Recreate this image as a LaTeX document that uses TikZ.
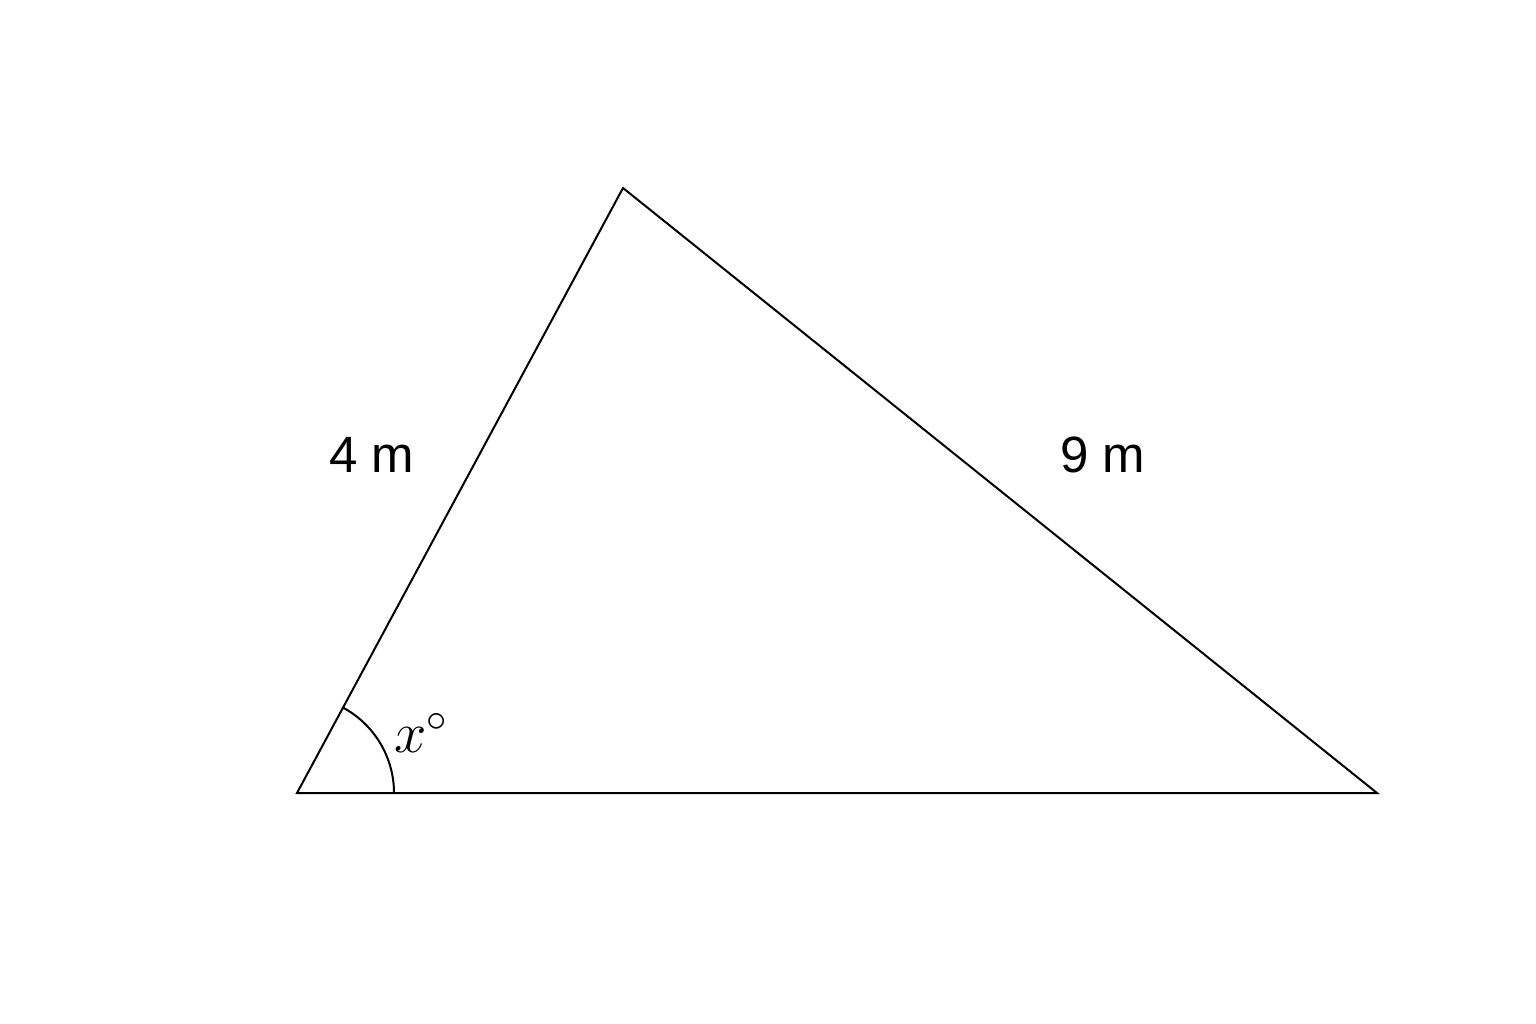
\RequirePackage{fix-cm}
\documentclass[tikz,border=0pt]{standalone}
\usepackage{fontspec}
\setsansfont{Liberation Sans}
\begin{document}
\begin{tikzpicture}[x=1pt,y=-1pt,
  edge/.style={line width=2pt,line join=miter},
  lab/.style={font=\fontsize{51}{60}\sffamily\selectfont,inner sep=0pt},
  anglab/.style={font=\fontsize{58}{66}\selectfont,inner sep=0pt}]
\useasboundingbox (0,0) rectangle (1536,1024);
\fill[white] (0,0) rectangle (1536,1024);
\coordinate (A) at (297,793);
\coordinate (B) at (623,188);
\coordinate (C) at (1377,793);
\draw[edge] (A) -- (B) -- (C) -- cycle;
\draw[edge] ([xshift=97pt]A) arc[start angle=0,end angle=61.7,radius=97pt];
\node[lab] (l4) at (372,455) {4 m};
\node[lab] (l9) at (1103,455) {9 m};
\node[anglab] (lx) at (421,733) {$x^\circ$};
\end{tikzpicture}
\end{document}
